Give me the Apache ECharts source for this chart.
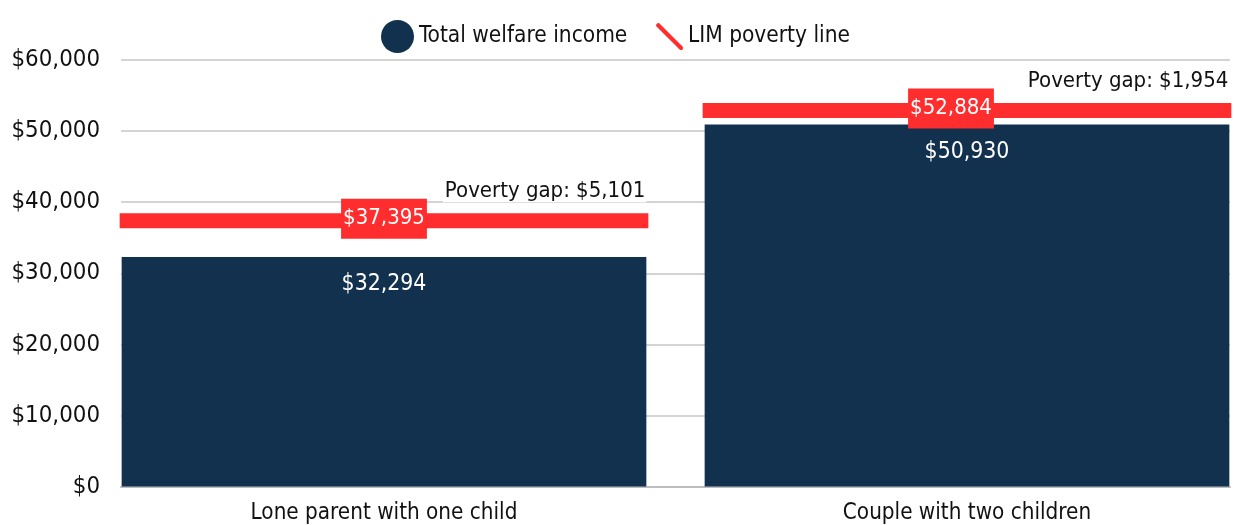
<!DOCTYPE html>
<html>
<head>
<meta charset="utf-8">
<script src="https://cdn.jsdelivr.net/npm/echarts@6/dist/echarts.min.js"></script>
<style>
  html, body { margin: 0; padding: 0; background: #fff; }
  #chart { width: 1234px; height: 525px; }
</style>
</head>
<body>
<div id="chart"></div>
<script>
// ---- data ----
const categories = ['Lone parent with one child', 'Couple with two children'];
const welfareIncome = [32294, 50930];
const povertyLine = [37395, 52884];
const yTicks = [0, 10000, 20000, 30000, 40000, 50000, 60000];

// ---- style constants ----
const FONT = '"Liberation Sans Narrow", "DejaVu Sans Condensed", "Roboto Condensed", "Arial Narrow", sans-serif';
const NAVY = '#12314f';
const RED = '#ff2d2d';
const LABEL_DX = [0, -16];

const fmt = v => '$' + v.toLocaleString('en-US');

const chart = echarts.init(document.getElementById('chart'), null, { renderer: 'canvas' });

const lineData = categories.map((c, i) => [i, povertyLine[i], welfareIncome[i]]);

const option = {
  animation: false,
  backgroundColor: '#fff',
  textStyle: { fontFamily: FONT },
  legend: [
    {
      data: [{ name: 'Total welfare income', icon: 'circle' }],
      left: 376, top: 15,
      itemWidth: 33, itemHeight: 33, itemGap: 5,
      textStyle: { fontFamily: FONT, fontSize: 22.5, color: '#111' },
      selectedMode: false
    },
    {
      data: [{ name: 'LIM poverty line', icon: 'path://M0,3 Q0,0 3,0 L27,24 Q28,28 24,27 L0,3 Z' }],
      left: 651, top: 18,
      itemWidth: 27, itemHeight: 27, itemGap: 5,
      textStyle: { fontFamily: FONT, fontSize: 22.5, color: '#111' },
      selectedMode: false
    }
  ],
  grid: [
    { left: 121, right: 4, top: 60, bottom: 38.5, outerBoundsMode: 'none', containLabel: false },
    { left: 92.5, width: 1166, top: 60, bottom: 38.5, outerBoundsMode: 'none', containLabel: false }
  ],
  xAxis: [
    {
      type: 'category', gridIndex: 0, data: categories,
      axisLabel: { show: false }, axisTick: { show: false },
      axisLine: { show: true, lineStyle: { color: '#bdbdbd', width: 2 } }
    },
    {
      type: 'category', gridIndex: 1, data: categories,
      axisLine: { show: false }, axisTick: { show: false },
      axisLabel: { margin: 16, fontFamily: FONT, fontSize: 22.3, color: '#111' }
    }
  ],
  yAxis: [
    {
      type: 'value', gridIndex: 0,
      min: yTicks[0], max: yTicks[yTicks.length - 1], interval: yTicks[1] - yTicks[0],
      axisLine: { show: false }, axisTick: { show: false },
      axisLabel: { margin: 21, fontFamily: FONT, fontSize: 23.8, color: '#111', formatter: v => fmt(v) },
      splitLine: { lineStyle: { color: '#d4d4d4', width: 2 } }
    },
    {
      type: 'value', gridIndex: 1,
      min: yTicks[0], max: yTicks[yTicks.length - 1], interval: yTicks[1] - yTicks[0],
      show: false, splitLine: { show: false }
    }
  ],
  series: [
    {
      name: 'Total welfare income',
      type: 'bar',
      xAxisIndex: 1, yAxisIndex: 1,
      data: welfareIncome,
      barWidth: '90%',
      itemStyle: { color: NAVY },
      label: {
        show: true, position: 'insideTop', distance: 16,
        color: '#fff', fontFamily: FONT, fontSize: 22.8,
        formatter: p => fmt(p.value)
      },
      z: 2
    },
    {
      name: 'LIM poverty line',
      type: 'custom',
      xAxisIndex: 1, yAxisIndex: 1,
      itemStyle: { color: RED },
      data: lineData,
      encode: { x: 0, y: 1 },
      z: 3,
      renderItem: function (params, api) {
        const idx = params.dataIndex;
        const pov = api.value(1);
        const inc = api.value(2);
        const pt = api.coord([api.value(0), pov]);
        const bw = api.size([1, 0])[0] * 0.9;
        const w = bw + 4;
        const h = 15;
        return {
          type: 'group',
          children: [
            {
              type: 'rect',
              shape: { x: pt[0] - w / 2, y: pt[1] - h / 2, width: w, height: h },
              style: { fill: RED }
            },
            {
              type: 'text',
              x: pt[0] + LABEL_DX[idx], y: pt[1] - 2,
              z2: 10,
              style: {
                text: fmt(pov),
                fill: '#fff',
                font: '22px ' + FONT,
                lineHeight: 26,
                align: 'center', verticalAlign: 'middle',
                backgroundColor: RED,
                padding: [7, 2, 7, 2]
              }
            },
            {
              type: 'text',
              x: pt[0] + bw / 2, y: pt[1] - h / 2 - 22,
              z2: 10,
              style: {
                text: 'Poverty gap: ' + fmt(pov - inc),
                fill: '#111',
                font: '22px ' + FONT,
                align: 'right', verticalAlign: 'middle',
                backgroundColor: '#fff',
                padding: [0, 1, 0, 2]
              }
            }
          ]
        };
      }
    }
  ]
};

chart.setOption(option);
</script>
</body>
</html>
